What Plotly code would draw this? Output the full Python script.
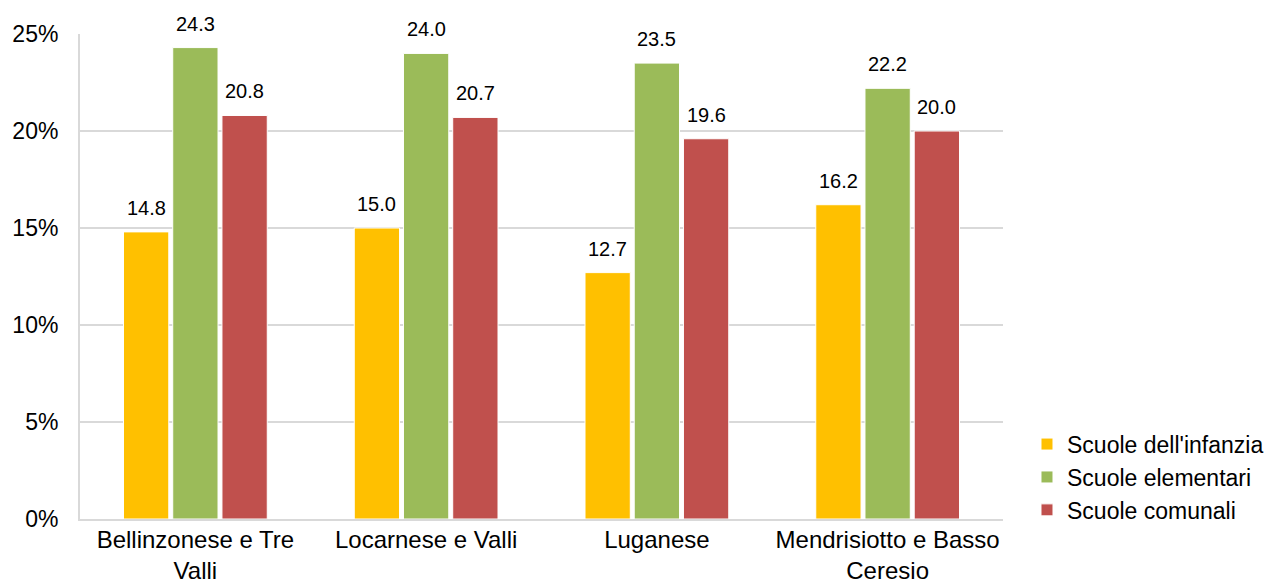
import plotly.graph_objects as go

categories = ["Bellinzonese e Tre<br>Valli", "Locarnese e Valli", "Luganese", "Mendrisiotto e Basso<br>Ceresio"]
infanzia = [14.8, 15.0, 12.7, 16.2]
elementari = [24.3, 24.0, 23.5, 22.2]
comunali = [20.8, 20.7, 19.6, 20.0]
series_names = ["Scuole dell'infanzia", "Scuole elementari", "Scuole comunali"]
colors = ["#FFC000", "#9BBB59", "#C0504D"]
tick_vals = [0, 5, 10, 15, 20, 25]
tick_text = ["0%", "5%", "10%", "15%", "20%", "25%"]

# layout geometry (page has an 8px body margin)
W, H = 1270, 575
ML, MR, MT, MB = 72, 275, 26, 64
BARGAP = 0.36
plot_w = W - ML - MR
slot_px = plot_w / len(categories) * (1 - BARGAP) / 3

font = "Liberation Sans, Arial, sans-serif"
fig = go.Figure()
all_series = [infanzia, elementari, comunali]
for i, (name, vals, col) in enumerate(zip(series_names, all_series, colors)):
    fig.add_trace(go.Bar(
        x=categories, y=vals, name=name,
        marker=dict(color=col, line=dict(color="white", width=1)),
    ))
    for c, v in zip(categories, vals):
        fig.add_annotation(
            x=c, y=v, text=f"{v:.1f}", showarrow=False,
            xshift=(i - 1) * slot_px, yshift=11, yanchor="bottom",
            font=dict(size=20, color="#000000", family=font),
        )

fig.update_layout(
    barmode="group", bargap=BARGAP, bargroupgap=0.08,
    width=W, height=H,
    margin=dict(l=ML, r=MR, t=MT, b=MB, autoexpand=False),
    plot_bgcolor="white", paper_bgcolor="white",
    font=dict(family=font, size=24, color="#000000"),
    legend=dict(x=1.026, y=-0.026, xanchor="left", yanchor="bottom",
                font=dict(size=23), itemwidth=30, tracegroupgap=0,
                bgcolor="rgba(0,0,0,0)"),
    xaxis=dict(showline=True, linecolor="#D9D9D9", linewidth=2, ticks="",
               tickfont=dict(size=24), automargin=False, ticklabelstandoff=-2),
    yaxis=dict(range=[0, 25], tickvals=tick_vals, ticktext=tick_text,
               showgrid=True, gridcolor="#D9D9D9", gridwidth=2,
               showline=True, linecolor="#D9D9D9", linewidth=2,
               zeroline=False, tickfont=dict(size=23), ticks="",
               ticklabelstandoff=15, automargin=False),
)
fig.write_html("out.html")
